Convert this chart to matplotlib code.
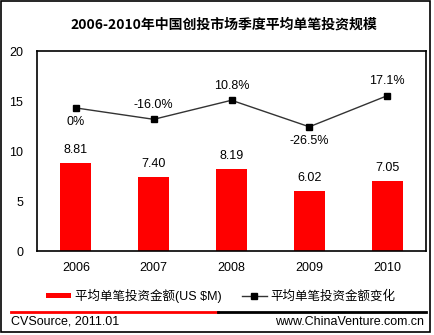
import matplotlib
matplotlib.use("Agg")
import matplotlib.pyplot as plt
from matplotlib.patches import Rectangle
from matplotlib.lines import Line2D

plt.rcParams['font.family'] = ['Liberation Sans', 'Noto Sans CJK SC', 'DejaVu Sans']

years = ["2006", "2007", "2008", "2009", "2010"]
amounts = [8.81, 7.40, 8.19, 6.02, 7.05]
changes = [0.0, -16.0, 10.8, -26.5, 17.1]
change_labels = ["0%", "-16.0%", "10.8%", "-26.5%", "17.1%"]
label_above = [False, True, True, False, True]

title = "2006-2010年中国创投市场季度平均单笔投资规模"
bar_name = "平均单笔投资金额(US $M)"
line_name = "平均单笔投资金额变化"

W, H = 435, 335
fig = plt.figure(figsize=(W / 100, H / 100), dpi=100)

def fx(px):
    return px / W

def fy(py):
    return 1 - py / H

# outer border
fig.patches.append(Rectangle((fx(0.5), fy(332)), fx(429.5), (332 - 0.5) / H,
                             transform=fig.transFigure, fill=False,
                             edgecolor='black', linewidth=1.2))

ax = fig.add_axes([fx(37), fy(251), fx(389), 200 / H])
x = list(range(len(years)))
bars = ax.bar(x, amounts, width=0.4, color='#ff0000', zorder=2, label=bar_name)
ax.set_xlim(-0.5, len(years) - 0.5)
ax.set_ylim(0, 20)
ax.set_yticks([0, 5, 10, 15, 20])
ax.set_xticks(x)
ax.set_xticklabels(years)
ax.tick_params(length=0, labelsize=9, pad=10)
ax.tick_params(axis='x', pad=8)
for s in ax.spines.values():
    s.set_linewidth(1.2)
for xi, v in zip(x, amounts):
    ax.annotate(f"{v:.2f}", (xi, v), xytext=(0, 5), textcoords='offset points',
                ha='center', va='bottom', fontsize=9)

ax2 = ax.twinx()
ax2.set_ylim(-201, 80)
ax2.set_yticks([])
for s in ax2.spines.values():
    s.set_visible(False)
ln, = ax2.plot(x, changes, color='#333333', linewidth=1, marker='s',
               markersize=5, markerfacecolor='black', markeredgecolor='black',
               label=line_name, zorder=3)
for xi, v, lab, up in zip(x, changes, change_labels, label_above):
    ax2.annotate(lab, (xi, v), xytext=(0, 6 if up else -6), textcoords='offset points',
                 ha='center', va='bottom' if up else 'top', fontsize=9)

fig.text(fx(224), fy(25), title, ha='center', va='center', fontsize=10,
         fontweight='bold', family=['Noto Sans CJK SC', 'DejaVu Sans'])

leg = fig.legend([bars, ln], [bar_name, line_name], ncol=2, frameon=False,
                 loc='center', bbox_to_anchor=(fx(221), fy(296)),
                 prop={'family': ['Liberation Sans', 'Noto Sans CJK SC'], 'size': 9},
                 handlelength=2.0, handletextpad=0.3, columnspacing=1.6,
                 handleheight=0.3)

# footer line
fig.lines.append(Line2D([fx(11), fx(218)], [fy(312), fy(312)], transform=fig.transFigure,
                        color='#ff0000', linewidth=2))
fig.lines.append(Line2D([fx(218), fx(426)], [fy(312), fy(312)], transform=fig.transFigure,
                        color='black', linewidth=2))
fig.text(fx(11), fy(322), "CVSource, 2011.01", ha='left', va='center', fontsize=9)
fig.text(fx(424), fy(322), "www.ChinaVenture.com.cn", ha='right', va='center', fontsize=9)

fig.savefig("out.png", dpi=100)
